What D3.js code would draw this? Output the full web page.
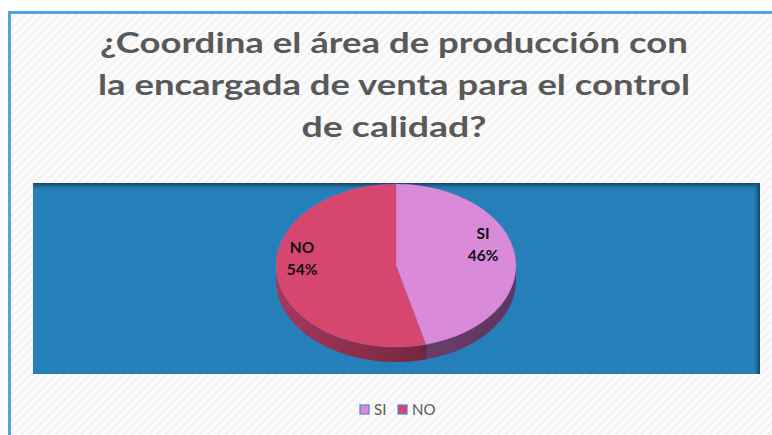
<!DOCTYPE html>
<html lang="es">
<head>
<meta charset="UTF-8">
<title>Control de calidad</title>
<script src="https://cdn.jsdelivr.net/npm/d3@7"></script>
<style>
    body { margin: 0; background: #fff; }
    .title { font-family: Lato, "Open Sans", sans-serif; font-weight: bold; fill: #595959; text-anchor: middle; }
    .lbl { font-family: Lato, "Open Sans", sans-serif; font-weight: bold; font-size: 15.5px; fill: #111; text-anchor: middle; }
    .legend { font-family: Lato, "Open Sans", sans-serif; font-size: 15px; fill: #595959; }
</style>
</head>
<body>
<script>
    const categories = ["SI", "NO"];
    const values = [46, 54];
    const labels = ["46%", "54%"];
    const titleLines = ["¿Coordina el área de producción con", "la encargada de venta para el control", "de calidad?"];

    const topColors = ["#d98ad9", "#d6466f"];
    const sideColors = [["#7a4a7a", "#5e355e"], ["#a8385a", "#581a2e"]];

    const W = 772, H = 435;
    const svg = d3.select("body").append("svg").attr("width", W).attr("height", H);
    const defs = svg.append("defs");

    // hatched background
    const pat = defs.append("pattern").attr("id", "hatch").attr("patternUnits", "userSpaceOnUse")
        .attr("width", 6).attr("height", 6).attr("patternTransform", "rotate(45)");
    pat.append("rect").attr("width", 6).attr("height", 6).attr("fill", "#f4f4f4");
    pat.append("rect").attr("width", 3).attr("height", 6).attr("fill", "#fdfdfd");

    svg.append("rect").attr("x", 9).attr("y", 12).attr("width", W - 9).attr("height", H - 12).attr("fill", "url(#hatch)");
    svg.append("path").attr("d", `M9.5,${H} V12.5 H${W}`).attr("fill", "none").attr("stroke", "#4ea5df").attr("stroke-width", 3);

    // title
    const title = svg.append("text").attr("class", "title").style("font-size", "29px");
    const targetW = [588, 592, 185];
    titleLines.forEach((t, i) => {
        const ts = title.append("tspan").attr("x", 394).attr("y", 53 + i * 42).text(t);
        const w = ts.node().getComputedTextLength();
        if (Math.abs(w - targetW[i]) > 4) ts.attr("textLength", targetW[i]).attr("lengthAdjust", "spacingAndGlyphs");
    });

    // plot area
    const pa = { x: 33, y: 183, w: 727, h: 191 };
    svg.append("rect").attr("x", pa.x).attr("y", pa.y).attr("width", pa.w).attr("height", pa.h).attr("fill", "#2580b9");
    const gTop = defs.append("linearGradient").attr("id", "shTop").attr("x1", 0).attr("x2", 0).attr("y1", 0).attr("y2", 1);
    gTop.append("stop").attr("offset", 0).attr("stop-color", "#163f5c").attr("stop-opacity", 1);
    gTop.append("stop").attr("offset", 1).attr("stop-color", "#2580b9").attr("stop-opacity", 0);
    svg.append("rect").attr("x", pa.x).attr("y", pa.y).attr("width", pa.w).attr("height", 8).attr("fill", "url(#shTop)");
    const gR = defs.append("linearGradient").attr("id", "shR").attr("x1", 0).attr("x2", 1).attr("y1", 0).attr("y2", 0);
    gR.append("stop").attr("offset", 0).attr("stop-color", "#2580b9").attr("stop-opacity", 0);
    gR.append("stop").attr("offset", 1).attr("stop-color", "#163f5c").attr("stop-opacity", 1);
    svg.append("rect").attr("x", pa.x + pa.w - 8).attr("y", pa.y).attr("width", 8).attr("height", pa.h).attr("fill", "url(#shR)");

    // 3D pie
    const cx = 396, cy = 265.5, rx = 120, ry = 81.5, depth = 15;
    const pie = d3.pie().sort(null).value(d => d)(values);
    const px = a => cx + rx * Math.sin(a);
    const py = a => cy - ry * Math.cos(a);

    sideColors.forEach((c, i) => {
        const g = defs.append("linearGradient").attr("id", "side" + i).attr("gradientUnits", "userSpaceOnUse")
            .attr("x1", cx - rx).attr("x2", cx + rx).attr("y1", 0).attr("y2", 0);
        g.append("stop").attr("offset", 0).attr("stop-color", c[0]);
        g.append("stop").attr("offset", 1).attr("stop-color", c[1]);
    });

    // side walls (front half only)
    pie.forEach((s, i) => {
        const a0 = Math.max(s.startAngle, Math.PI / 2), a1 = Math.min(s.endAngle, 3 * Math.PI / 2);
        if (a1 <= a0) return;
        const n = 40, pts = d3.range(n + 1).map(k => a0 + (a1 - a0) * k / n);
        const top = pts.map(a => [px(a), py(a)]);
        const bot = pts.slice().reverse().map(a => [px(a), py(a) + depth]);
        svg.append("path").attr("d", d3.line()(top.concat(bot)) + "Z").attr("fill", `url(#side${i})`);
    });
    // cut edge at the boundary between slices
    const edgeA = pie[0].endAngle;
    svg.append("line").attr("x1", px(edgeA)).attr("y1", py(edgeA)).attr("x2", px(edgeA)).attr("y2", py(edgeA) + depth)
        .attr("stroke", "#3a2030").attr("stroke-opacity", 0.5);

    // top faces
    const arc = d3.arc().innerRadius(0).outerRadius(rx);
    const gPie = svg.append("g").attr("transform", `translate(${cx},${cy}) scale(1,${ry / rx})`);
    gPie.selectAll("path").data(pie).join("path")
        .attr("d", arc).attr("fill", (d, i) => topColors[i])
        .attr("stroke", "#b070c0").attr("stroke-width", 0.6).attr("stroke-opacity", 0.6);

    // data labels
    const lblPos = [[483, 239], [302, 253]];
    pie.forEach((s, i) => {
        const t = svg.append("text").attr("class", "lbl");
        t.append("tspan").attr("x", lblPos[i][0]).attr("y", lblPos[i][1]).text(categories[i]);
        t.append("tspan").attr("x", lblPos[i][0]).attr("y", lblPos[i][1] + 22).text(labels[i]);
    });

    // legend
    const legX = [360, 398];
    categories.forEach((c, i) => {
        svg.append("rect").attr("x", legX[i]).attr("y", 405).attr("width", 9).attr("height", 9)
            .attr("fill", topColors[i]).attr("stroke", "#5b7fd6").attr("stroke-width", 1.2);
        svg.append("text").attr("class", "legend").attr("x", legX[i] + 14).attr("y", 415).text(c);
    });
</script>
</body>
</html>
